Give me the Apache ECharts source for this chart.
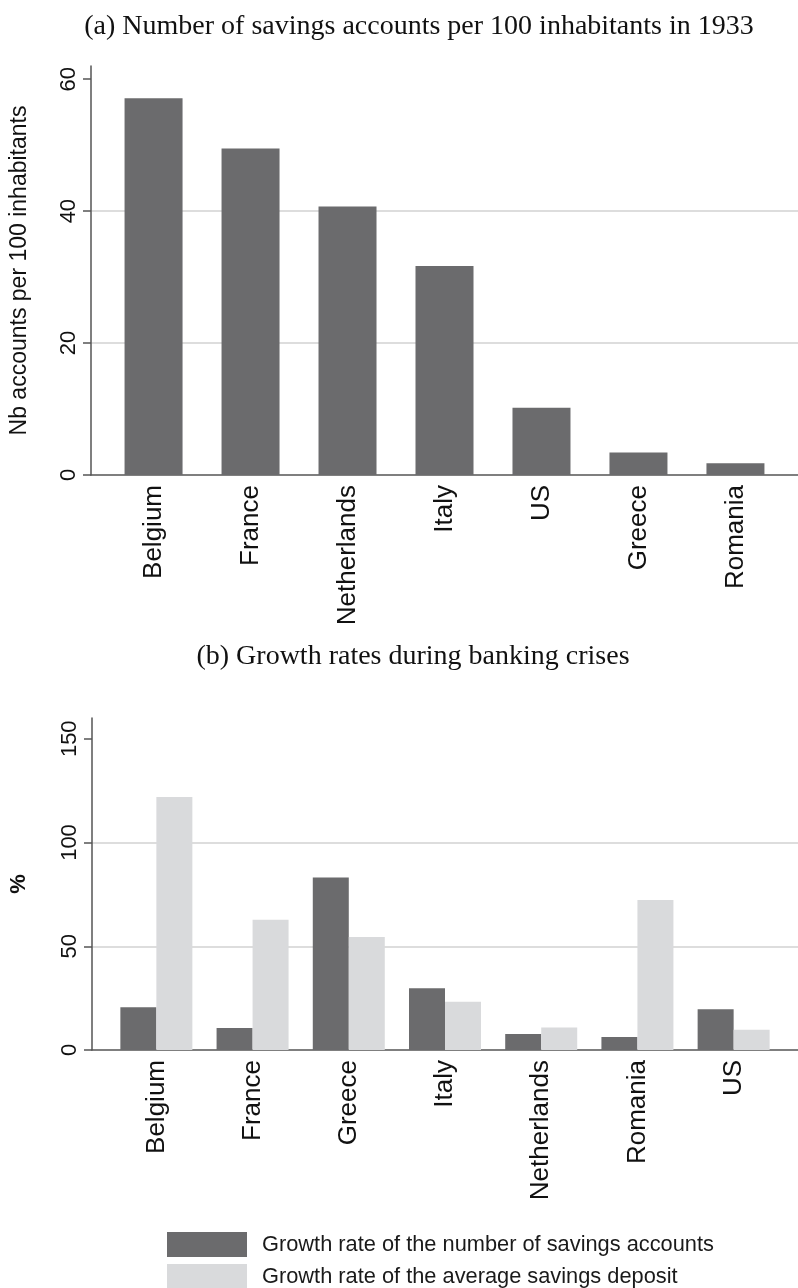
<!DOCTYPE html>
<html>
<head>
<meta charset="utf-8">
<script src="https://cdn.jsdelivr.net/npm/echarts@6/dist/echarts.min.js"></script>
<style>
  html, body { margin: 0; padding: 0; background: #fff; }
  #chart { width: 798px; height: 1288px; }
</style>
</head>
<body>
<div id="chart"></div>
<script>
// Panel (a): savings accounts per 100 inhabitants, 1933
const countriesA = ['Belgium', 'France', 'Netherlands', 'Italy', 'US', 'Greece', 'Romania'];
const accountsPer100 = [57.1, 49.5, 40.7, 31.7, 10.2, 3.4, 1.8];
const ticksA = [0, 20, 40, 60];

// Panel (b): growth rates during banking crises (%)
const countriesB = ['Belgium', 'France', 'Greece', 'Italy', 'Netherlands', 'Romania', 'US'];
const growthAccounts = [20.6, 10.6, 83.1, 29.8, 7.7, 6.3, 19.6];
const growthDeposit = [121.9, 62.8, 54.4, 23.2, 10.9, 72.3, 9.7];
const ticksB = [0, 50, 100, 150];

const seriesNames = [
  'Growth rate of the number of savings accounts',
  'Growth rate of the average savings deposit'
];

const DARK = '#6b6b6d';
const LIGHT = '#d9dadc';
const AXIS = '#555555';
const GRID = '#d2d2d2';
const SANS = 'Liberation Sans, Arial, sans-serif';
const SERIF = 'Liberation Serif, Times New Roman, serif';

// bars sit at integer positions along a value axis so the outer gaps can be set freely
const indexed = (vals) => vals.map((v, i) => [i, v]);

function xAxisFor(cats, gap, gridIndex) {
  return {
    type: 'value', gridIndex,
    min: -gap, max: cats.length - 1 + gap,
    axisLine: { show: true, onZero: false, lineStyle: { color: AXIS, width: 1.5 } },
    axisTick: { show: false },
    splitLine: { show: false },
    axisLabel: {
      customValues: cats.map((_, i) => i),
      formatter: (v) => cats[Math.round(v)],
      rotate: 90, fontSize: 26, fontFamily: SANS, color: '#111111', margin: 10
    }
  };
}

function yAxisFor(ticks, max, interval, name, nameStyle, gridIndex) {
  return {
    type: 'value', gridIndex,
    min: 0, max, interval,
    name, nameLocation: 'middle', nameRotate: 90, nameGap: nameStyle.gap,
    nameTextStyle: { fontSize: nameStyle.size, fontFamily: SANS, color: '#111111', fontWeight: nameStyle.weight },
    axisLine: { show: true, onZero: false, lineStyle: { color: AXIS, width: 1.5 } },
    axisTick: { show: true, customValues: ticks, length: 8, lineStyle: { color: AXIS, width: 1.5 } },
    axisLabel: { customValues: ticks, rotate: 90, fontSize: 22, fontFamily: SANS, color: '#111111', margin: 11 },
    splitLine: { show: true, showMinLine: false, showMaxLine: false, lineStyle: { color: GRID, width: 1.5 } }
  };
}

const chart = echarts.init(document.getElementById('chart'), null, { renderer: 'canvas' });
chart.setOption({
  backgroundColor: '#ffffff',
  animation: false,
  title: [
    { text: '(a) Number of savings accounts per 100 inhabitants in 1933', left: 414, top: 8, textAlign: 'center',
      textStyle: { fontFamily: SERIF, fontSize: 28, fontWeight: 'normal', color: '#111111' } },
    { text: '(b) Growth rates during banking crises', left: 408, top: 638, textAlign: 'center',
      textStyle: { fontFamily: SERIF, fontSize: 28, fontWeight: 'normal', color: '#111111' } }
  ],
  legend: {
    data: seriesNames, orient: 'vertical', left: 167, top: 1232, height: 100,
    itemWidth: 80, itemHeight: 25, itemGap: 7, icon: 'rect', padding: 0,
    textStyle: { fontFamily: SANS, fontSize: 21.8, color: '#1a1a1a', padding: [0, 0, 0, 10] }
  },
  grid: [
    { left: 91, top: 66, width: 712, height: 409 },
    { left: 92, top: 718, width: 711, height: 332 }
  ],
  xAxis: [
    xAxisFor(countriesA, 0.645, 0),
    xAxisFor(countriesB, 0.669, 1)
  ],
  yAxis: [
    yAxisFor(ticksA, 62, 20, 'Nb accounts per 100 inhabitants', { gap: 60, size: 23, weight: 'normal' }, 0),
    yAxisFor(ticksB, 160, 50, '%', { gap: 62, size: 22, weight: 'bold' }, 1)
  ],
  series: [
    { type: 'bar', xAxisIndex: 0, yAxisIndex: 0, data: indexed(accountsPer100),
      barWidth: 58, itemStyle: { color: DARK }, silent: true },
    { type: 'bar', name: seriesNames[0], xAxisIndex: 1, yAxisIndex: 1, data: indexed(growthAccounts),
      barWidth: 36, barGap: '0%', itemStyle: { color: DARK }, silent: true },
    { type: 'bar', name: seriesNames[1], xAxisIndex: 1, yAxisIndex: 1, data: indexed(growthDeposit),
      barWidth: 36, barGap: '0%', itemStyle: { color: LIGHT }, silent: true }
  ]
});
</script>
</body>
</html>
